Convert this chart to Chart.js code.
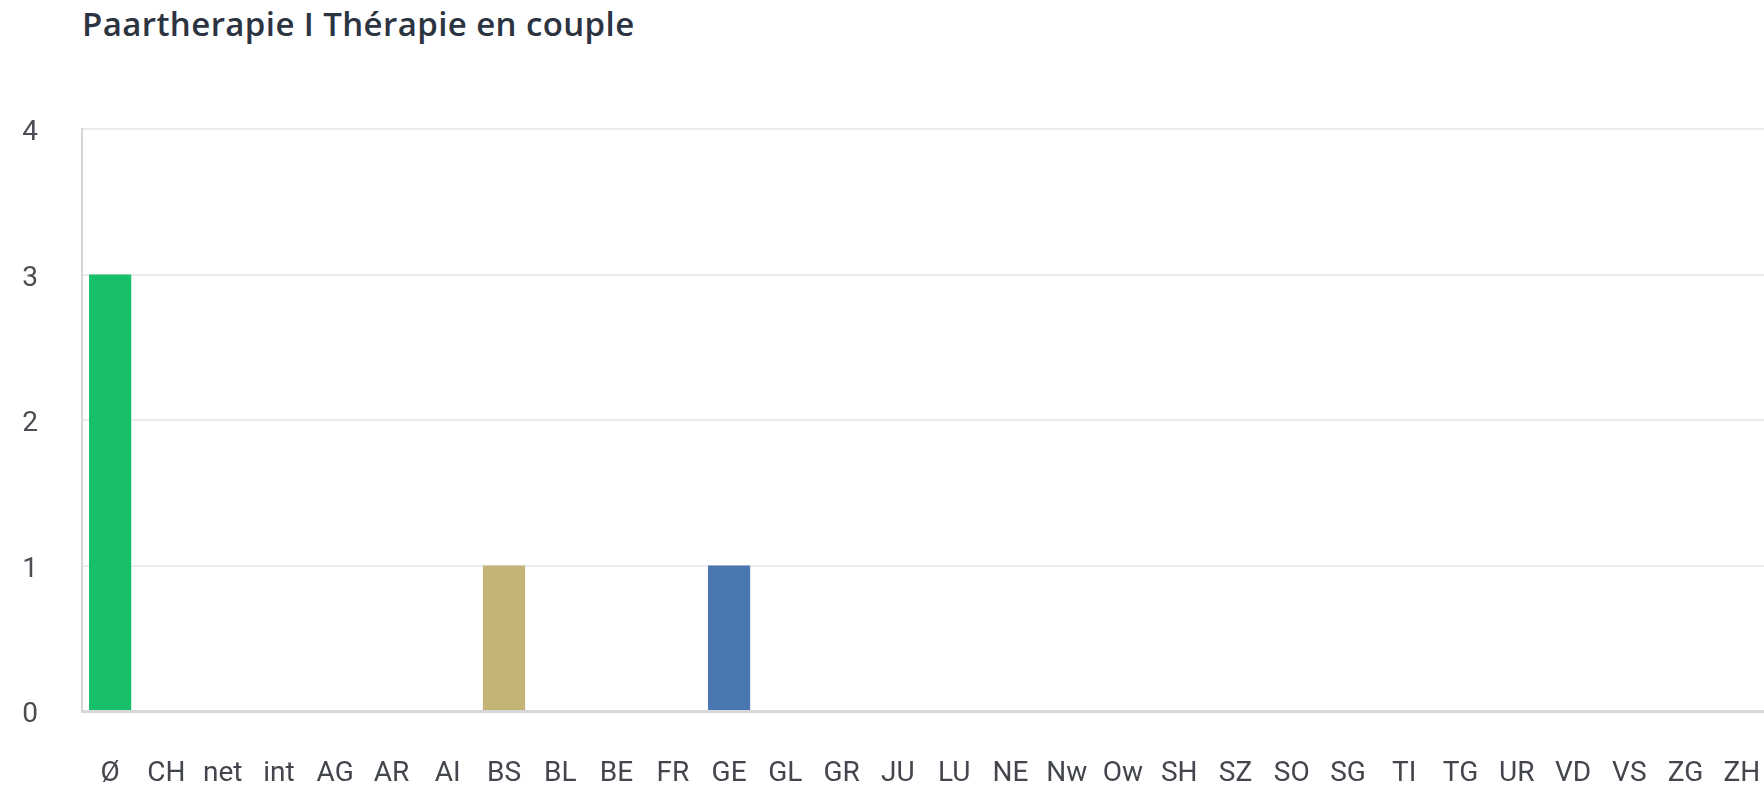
<!DOCTYPE html>
<html>
<head>
<meta charset="utf-8">
<script src="https://cdn.jsdelivr.net/npm/chart.js@4/dist/chart.umd.min.js"></script>
<style>
  html, body { margin: 0; padding: 0; background: #fff; overflow: hidden; }
  #title {
    position: absolute; left: 82px; top: 7px;
    font: 600 33px/33px "Open Sans", sans-serif; color: #2b3440;
    letter-spacing: 0.4px; white-space: nowrap;
  }
  #wrap { position: absolute; left: 0; top: 0; width: 1770px; height: 791px; }
</style>
</head>
<body>
<div id="title">Paartherapie I Thérapie en couple</div>
<div id="wrap"><canvas id="chart" width="1770" height="791"></canvas></div>
<script>
// categories along the x axis (average, Switzerland, internet, cantons)
const categories = [
  "Ø", "CH", "net", "int", "AG", "AR", "AI", "BS", "BL", "BE",
  "FR", "GE", "GL", "GR", "JU", "LU", "NE", "Nw", "Ow", "SH",
  "SZ", "SO", "SG", "TI", "TG", "UR", "VD", "VS", "ZG", "ZH"
];
const counts = [
  3, 0, 0, 0, 0, 0, 0, 1, 0, 0,
  0, 1, 0, 0, 0, 0, 0, 0, 0, 0,
  0, 0, 0, 0, 0, 0, 0, 0, 0, 0
];
const yTicks = [0, 1, 2, 3, 4];

// colour per highlighted category, everything else falls back to grey
const barColorFor = { "Ø": "#17bf6b", "BS": "#c2b377", "GE": "#4a77b2" };

const tickFont = { family: "Roboto, sans-serif", size: 28 };

new Chart(document.getElementById("chart"), {
  type: "bar",
  data: {
    labels: categories,
    datasets: [{
      data: counts,
      backgroundColor: (ctx) => barColorFor[categories[ctx.dataIndex]] || "#9aa3ad",
      borderWidth: 0,
      categoryPercentage: 0.75,
      barPercentage: 1
    }]
  },
  options: {
    responsive: false,
    animation: false,
    layout: { padding: { top: 129, right: 0, bottom: 0, left: 0 } },
    plugins: {
      legend: { display: false },
      tooltip: { enabled: false }
    },
    scales: {
      x: {
        afterFit: (scale) => {
          scale.height = 80;
          scale.paddingLeft = 0;
          scale.paddingRight = 0;
        },
        grid: { display: false, drawTicks: false },
        border: { display: true, color: "#d8d8d8", width: 3 },
        ticks: {
          font: tickFont,
          color: "#43474d",
          autoSkip: false,
          maxRotation: 0,
          minRotation: 0,
          padding: 46
        }
      },
      y: {
        min: 0,
        max: 4,
        afterFit: (scale) => { scale.width = 82; },
        afterBuildTicks: (scale) => {
          scale.ticks = yTicks.map((v) => ({ value: v }));
        },
        grid: { color: "#ececec", lineWidth: 2, drawTicks: false },
        border: { display: true, color: "#d4d4d4", width: 2 },
        ticks: {
          font: tickFont,
          color: "#4a4d52",
          padding: 44,
          labelOffset: 4
        }
      }
    }
  }
});
</script>
</body>
</html>
